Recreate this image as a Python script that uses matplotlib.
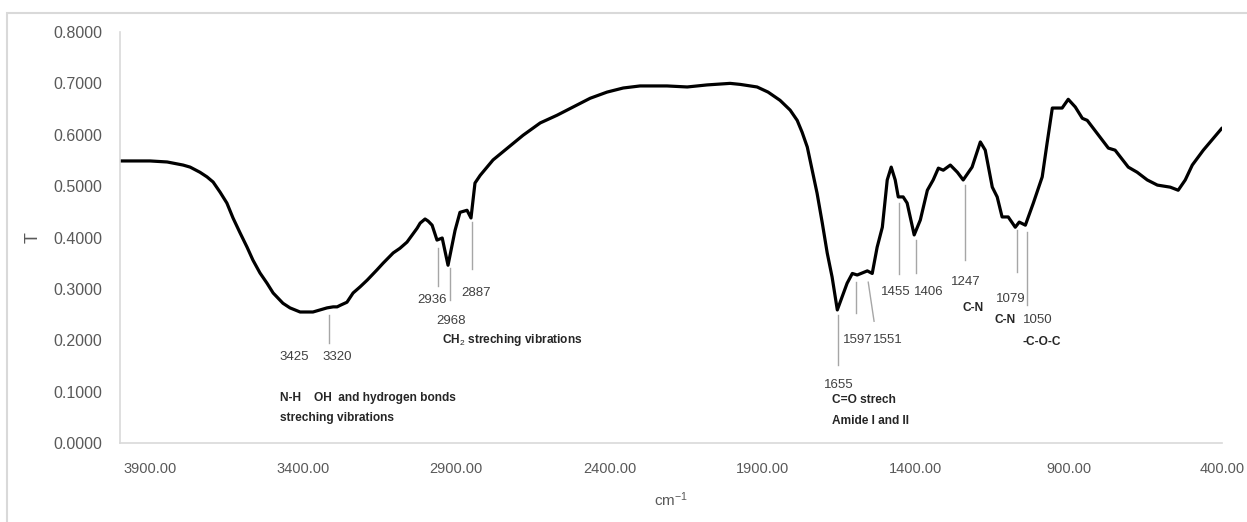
import matplotlib
matplotlib.use("Agg")
import matplotlib.pyplot as plt
from matplotlib.patches import Rectangle

# ---- data ----
wavenumber = [3998, 3956, 3900, 3844, 3792, 3769, 3737, 3714, 3694, 3671, 3649, 3629, 3606, 3583,
              3564, 3541, 3518, 3498, 3466, 3443, 3410, 3387, 3368, 3345, 3322, 3302, 3289, 3279,
              3257, 3237, 3214, 3191, 3159, 3139, 3106, 3084, 3061, 3044, 3028, 3018, 3002, 2992,
              2979, 2963, 2946, 2927, 2904, 2888, 2865, 2852, 2839, 2822, 2780, 2741, 2682, 2626,
              2571, 2519, 2463, 2408, 2355, 2300, 2212, 2146, 2081, 2006, 1973, 1918, 1882, 1843,
              1810, 1787, 1771, 1754, 1738, 1722, 1705, 1689, 1673, 1656, 1624, 1607,
              1591, 1558, 1542, 1526, 1509, 1493, 1480, 1467, 1457, 1441, 1428, 1405,
              1385, 1362, 1343, 1326, 1310, 1287, 1264, 1245, 1216, 1189, 1173, 1150,
              1134, 1118, 1098, 1075, 1062, 1042, 1016, 987, 971, 954, 922, 902, 879,
              856, 840, 798, 771, 749, 706, 677, 644, 611, 569, 543, 520, 497, 461, 400]
transmittance = [0.549, 0.549, 0.549, 0.547, 0.541, 0.537, 0.527, 0.518, 0.508, 0.488, 0.467, 0.438, 0.409, 0.381,
                 0.356, 0.331, 0.311, 0.292, 0.272, 0.263, 0.255, 0.255, 0.255, 0.259, 0.263, 0.265, 0.265, 0.268,
                 0.274, 0.292, 0.304, 0.317, 0.337, 0.350, 0.370, 0.379, 0.391, 0.405, 0.418, 0.428, 0.436, 0.432,
                 0.424, 0.395, 0.399, 0.346, 0.414, 0.449, 0.453, 0.438, 0.506, 0.521, 0.551, 0.570, 0.599, 0.623,
                 0.638, 0.654, 0.671, 0.683, 0.691, 0.695, 0.695, 0.693, 0.697, 0.700, 0.698, 0.693, 0.683, 0.667,
                 0.648, 0.628, 0.605, 0.576, 0.531, 0.486, 0.428, 0.370, 0.323, 0.259, 0.311, 0.330,
                 0.327, 0.335, 0.330, 0.381, 0.420, 0.512, 0.537, 0.512, 0.479, 0.479, 0.467, 0.405,
                 0.434, 0.492, 0.512, 0.535, 0.531, 0.541, 0.527, 0.512, 0.537, 0.586, 0.570, 0.498,
                 0.479, 0.440, 0.440, 0.420, 0.430, 0.424, 0.467, 0.518, 0.584, 0.652, 0.652, 0.669, 0.654,
                 0.632, 0.628, 0.595, 0.574, 0.570, 0.537, 0.527, 0.512, 0.502, 0.498, 0.492, 0.512, 0.541, 0.570, 0.613]

x_ticks = [3900, 3400, 2900, 2400, 1900, 1400, 900, 400]
x_tick_labels = ["3900.00", "3400.00", "2900.00", "2400.00", "1900.00", "1400.00", "900.00", "400.00"]
y_ticks = [0.0, 0.1, 0.2, 0.3, 0.4, 0.5, 0.6, 0.7, 0.8]
y_tick_labels = ["0.0000", "0.1000", "0.2000", "0.3000", "0.4000", "0.5000", "0.6000", "0.7000", "0.8000"]

# peak marker lines: (x_top, x_bottom, T_top, T_bottom)
peak_lines = [(3315, 3315, 0.249, 0.195), (2959, 2959, 0.379, 0.305), (2920, 2920, 0.340, 0.278),
              (2848, 2848, 0.430, 0.339), (1653, 1653, 0.249, 0.152), (1594, 1594, 0.313, 0.253),
              (1555, 1536, 0.313, 0.237), (1454, 1454, 0.467, 0.329), (1398, 1398, 0.395, 0.331),
              (1238, 1238, 0.502, 0.356), (1069, 1069, 0.414, 0.333), (1036, 1036, 0.410, 0.268)]
# peak number labels: (text, x, T)
peak_labels = [("3425", 3430, 0.167), ("3320", 3289, 0.167), ("2936", 2979, 0.278), ("2968", 2917, 0.237),
               ("2887", 2835, 0.292), ("1655", 1650, 0.113), ("1597", 1588, 0.200), ("1551", 1490, 0.200),
               ("1455", 1464, 0.294), ("1406", 1359, 0.294), ("1247", 1238, 0.313), ("1079", 1091, 0.280),
               ("1050", 1000, 0.239)]
# group assignments (bold): (text, x, T, align)
group_labels = [("N-H    OH  and hydrogen bonds", 3475, 0.0875, "left"),
                ("streching vibrations", 3475, 0.049, "left"),
                ("CH$_2$ streching vibrations", 2946, 0.200, "left"),
                ("C=O strech", 1673, 0.084, "left"),
                ("Amide I and II", 1673, 0.043, "left"),
                ("C-N", 1212, 0.263, "center"),
                ("C-N", 1108, 0.239, "center"),
                ("-C-O-C", 990, 0.196, "center")]

FONT = ["Liberation Sans", "DejaVu Sans"]
plt.rcParams["font.family"] = FONT
plt.rcParams["mathtext.fontset"] = "custom"
plt.rcParams["mathtext.rm"] = "Liberation Sans"
plt.rcParams["mathtext.bf"] = "Liberation Sans:bold"
plt.rcParams["mathtext.it"] = "Liberation Sans:italic"

fig = plt.figure(figsize=(12.47, 5.22), dpi=100)
W, H = 1247, 522
fig.patches.append(Rectangle((7 / W, -0.1), 1.2, 1 - 13 / H + 0.1, transform=fig.transFigure,
                             fill=False, edgecolor="#d9d9d9", linewidth=1.5))
ax = fig.add_axes([120 / W, 1 - 443 / H, (1222 - 120) / W, (443 - 32) / H])

ax.plot(wavenumber, transmittance, color="black", linewidth=2.3, solid_joinstyle="round",
        solid_capstyle="round")

for xt, xb, yt, yb in peak_lines:
    ax.plot([xt, xb], [yt, yb], color="#a6a6a6", linewidth=1.0)
for txt, x, y in peak_labels:
    ax.text(x, y, txt, ha="center", va="center", fontsize=9.5, color="#404040")
for txt, x, y, ha in group_labels:
    ax.text(x, y, txt, ha=ha, va="center", fontsize=8.6, fontweight="bold", color="#262626")

ax.set_xlim(3998, 400)
ax.set_ylim(0, 0.8)
ax.set_xticks(x_ticks)
ax.set_xticklabels(x_tick_labels)
ax.set_yticks(y_ticks)
ax.set_yticklabels(y_tick_labels)
ax.tick_params(axis="x", length=0, pad=14, labelsize=10.5, labelcolor="#595959")
ax.tick_params(axis="y", length=0, pad=13, labelsize=11.5, labelcolor="#595959")
for s in ("top", "right"):
    ax.spines[s].set_visible(False)
for s in ("left", "bottom"):
    ax.spines[s].set_color("#d9d9d9")
    ax.spines[s].set_linewidth(1.2)

ax.set_xlabel("cm$^{-1}$", fontsize=11, color="#595959", labelpad=10)
ax.set_ylabel("T", fontsize=13, color="#595959", labelpad=8)

fig.savefig("out.png", dpi=100)
